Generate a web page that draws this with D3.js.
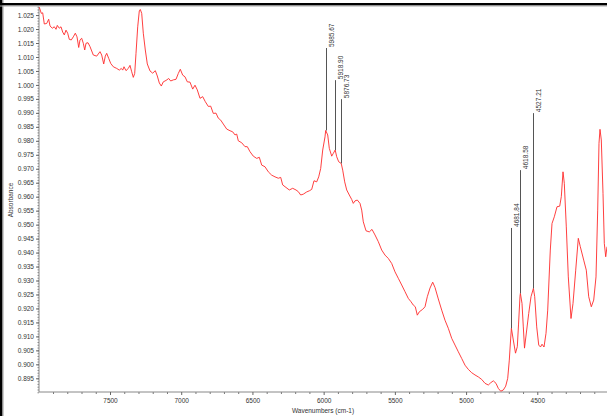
<!DOCTYPE html>
<html><head><meta charset="utf-8">
<script src="https://cdn.jsdelivr.net/npm/d3@7"></script>
<style>
body{margin:0;background:#fff;}
svg{display:block;}
text{font-family:"Liberation Sans",Arial,sans-serif;}
</style>
</head><body>
<svg id="c" width="607" height="416"></svg>
<script>
const wavenumbers = [7996.4,7982.3,7972.5,7961.3,7944.4,7930.4,7921.2,7905.1,7891.1,7879.1,7870.0,7856.0,7844.0,7832.1,7820.8,7808.9,7797.0,7785.7,7771.7,7757.7,7743.6,7731.7,7719.7,7710.6,7698.7,7687.4,7677.6,7668.5,7654.5,7640.4,7617.2,7593.4,7570.2,7558.3,7544.2,7533.0,7523.2,7509.1,7495.1,7476.8,7452.9,7434.7,7420.7,7410.8,7401.7,7387.7,7371.5,7359.6,7347.6,7336.4,7326.6,7317.4,7305.5,7294.3,7287.3,7277.4,7266.2,7252.1,7238.1,7219.1,7200.2,7181.9,7167.9,7153.9,7139.8,7125.8,7106.8,7087.9,7073.8,7055.6,7036.6,7020.5,7006.4,6989.6,6973.4,6957.3,6938.3,6919.4,6903.2,6887.1,6868.1,6849.2,6830.9,6809.8,6793.0,6774.7,6755.8,6739.6,6722.8,6704.5,6680.6,6657.5,6638.5,6622.4,6610.4,6599.2,6575.3,6552.2,6536.0,6517.0,6493.9,6470.0,6451.8,6434.9,6411.7,6388.6,6364.7,6341.5,6318.4,6301.5,6287.5,6264.3,6241.1,6217.3,6194.1,6177.9,6161.1,6142.8,6119.0,6100.7,6083.9,6067.7,6048.8,6034.7,6020.7,6006.6,5990.5,5985.7,5971.5,5960.3,5943.4,5932.2,5918.9,5908.4,5894.3,5876.7,5866.2,5852.2,5838.1,5819.9,5803.0,5791.8,5779.8,5763.7,5744.7,5732.8,5721.6,5702.6,5679.4,5660.5,5639.4,5616.3,5592.4,5569.2,5546.0,5522.2,5499.0,5475.9,5452.0,5428.8,5405.6,5386.7,5370.5,5356.5,5342.4,5328.4,5304.5,5288.4,5272.2,5253.3,5234.3,5218.2,5195.0,5171.1,5148.0,5124.8,5100.9,5077.7,5054.6,5030.7,5007.5,4984.4,4960.5,4937.3,4914.2,4890.3,4867.1,4843.9,4827.1,4808.8,4789.9,4773.7,4756.9,4738.6,4721.8,4707.7,4696.5,4686.7,4681.8,4668.4,4653.0,4640.3,4631.9,4621.4,4618.6,4607.3,4598.2,4589.8,4574.3,4560.3,4544.1,4527.2,4518.1,4504.1,4490.0,4477.4,4466.9,4452.9,4438.8,4426.9,4408.7,4396.7,4380.6,4361.6,4342.6,4331.4,4319.5,4310.4,4296.3,4282.3,4263.3,4249.3,4230.3,4212.1,4198.0,4174.1,4155.9,4139.0,4120.8,4103.9,4087.8,4075.9,4066.8,4059.7,4050.6,4038.6,4029.5,4019.7,4010.6];
const absorbance = [1.0278,1.0256,1.0258,1.0218,1.0220,1.0235,1.0211,1.0203,1.0208,1.0199,1.0213,1.0203,1.0208,1.0189,1.0179,1.0196,1.0185,1.0163,1.0161,1.0172,1.0185,1.0172,1.0134,1.0161,1.0167,1.0149,1.0125,1.0149,1.0151,1.0137,1.0107,1.0103,1.0119,1.0107,1.0075,1.0103,1.0113,1.0095,1.0077,1.0065,1.0059,1.0053,1.0059,1.0053,1.0065,1.0051,1.0059,1.0070,1.0047,1.0027,1.0041,1.0113,1.0208,1.0265,1.0270,1.0256,1.0185,1.0125,1.0075,1.0050,1.0042,1.0051,1.0032,1.0007,0.9996,1.0011,1.0016,1.0023,1.0014,1.0018,1.0020,1.0041,1.0056,1.0035,1.0029,1.0011,1.0010,0.9985,0.9999,0.9982,0.9952,0.9958,0.9940,0.9923,0.9924,0.9898,0.9899,0.9881,0.9874,0.9860,0.9842,0.9836,0.9832,0.9821,0.9824,0.9800,0.9793,0.9779,0.9779,0.9761,0.9745,0.9737,0.9741,0.9713,0.9707,0.9689,0.9677,0.9671,0.9666,0.9669,0.9642,0.9633,0.9624,0.9630,0.9624,0.9618,0.9606,0.9609,0.9617,0.9621,0.9626,0.9657,0.9653,0.9671,0.9701,0.9767,0.9814,0.9837,0.9821,0.9773,0.9745,0.9755,0.9767,0.9743,0.9725,0.9719,0.9695,0.9653,0.9624,0.9606,0.9590,0.9576,0.9585,0.9588,0.9576,0.9552,0.9510,0.9478,0.9474,0.9483,0.9463,0.9439,0.9409,0.9391,0.9379,0.9361,0.9331,0.9308,0.9284,0.9260,0.9236,0.9224,0.9212,0.9206,0.9176,0.9188,0.9197,0.9206,0.9242,0.9273,0.9294,0.9275,0.9234,0.9194,0.9158,0.9129,0.9093,0.9069,0.9045,0.9021,0.8997,0.8982,0.8970,0.8962,0.8955,0.8946,0.8932,0.8926,0.8934,0.8941,0.8932,0.8914,0.8904,0.8908,0.8922,0.8950,0.9015,0.9094,0.9129,0.9087,0.9040,0.9063,0.9141,0.9244,0.9254,0.9218,0.9134,0.9058,0.9123,0.9182,0.9242,0.9272,0.9242,0.9134,0.9069,0.9062,0.9072,0.9062,0.9111,0.9194,0.9409,0.9504,0.9528,0.9564,0.9566,0.9600,0.9689,0.9648,0.9492,0.9313,0.9164,0.9218,0.9337,0.9451,0.9421,0.9373,0.9337,0.9242,0.9206,0.9230,0.9313,0.9552,0.9791,0.9841,0.9803,0.9612,0.9433,0.9385,0.9421];

const peakPositions = [5985.67, 5918.90, 5876.73, 4681.84, 4618.58, 4527.21];
const peakLabels = ["5985.67", "5918.90", "5876.73", "4681.84", "4618.58", "4527.21"];
const peakMarkerTops = [1.0132, 1.0017, 0.9949, 0.9488, 0.9695, 0.9899];

const xTickValues = [7500, 7000, 6500, 6000, 5500, 5000, 4500];
const xTickLabels = ["7500", "7000", "6500", "6000", "5500", "5000", "4500"];
const yTickValues = [1.025,1.020,1.015,1.010,1.005,1.000,0.995,0.990,0.985,0.980,0.975,0.970,0.965,0.960,0.955,0.950,0.945,0.940,0.935,0.930,0.925,0.920,0.915,0.910,0.905,0.900,0.895];
const yTickLabels = ["1.025","1.020","1.015","1.010","1.005","1.000","0.995","0.990","0.985","0.980","0.975","0.970","0.965","0.960","0.955","0.950","0.945","0.940","0.935","0.930","0.925","0.920","0.915","0.910","0.905","0.900","0.895"];
const xTitle = "Wavenumbers (cm-1)";
const yTitle = "Absorbance";

const svg = d3.select("#c");
const L = 39, R = 607, T = 5, B = 392;
const x = d3.scaleLinear().domain([7998.5, 4010.6]).range([L, R]);
const y = d3.scaleLinear().domain([1.0286, 0.8901]).range([T, B]);

// frame
svg.append("rect").attr("x",0).attr("y",0).attr("width",607).attr("height",416).attr("fill","#fff");
svg.append("rect").attr("x",0).attr("y",0).attr("width",2.5).attr("height",416).attr("fill","#000");
svg.append("rect").attr("x",2.5).attr("y",0).attr("width",1).attr("height",416).attr("fill","#999");
svg.append("rect").attr("x",0).attr("y",3).attr("width",607).attr("height",2.5).attr("fill","#000");
svg.append("rect").attr("x",0).attr("y",5.5).attr("width",607).attr("height",1).attr("fill","#aaa");

const fs = 6.5;
// Y axis
const yMinor = d3.range(0, 139).map(i => +(0.890 + i*0.001).toFixed(3)).filter(v => v <= 1.0286);
const gyMinor = svg.append("g").attr("transform",`translate(${L},0)`)
  .call(d3.axisLeft(y).tickValues(yMinor).tickSize(1.5).tickFormat(""));
gyMinor.select(".domain").remove();
gyMinor.selectAll("line").attr("stroke","#888");
const gy = svg.append("g").attr("transform",`translate(${L},0)`)
  .call(d3.axisLeft(y).tickValues(yTickValues).tickSize(3).tickPadding(2)
    .tickFormat((d,i) => yTickLabels[i]));
gy.select(".domain").attr("stroke","#888").attr("d",`M0,${T+2}V${B}`);
gy.selectAll("line").attr("stroke","#666");
gy.selectAll("text").attr("font-size",fs).attr("fill","#333").attr("font-family","Liberation Sans, Arial, sans-serif");

// X axis
const xMinor = d3.range(4100, 8000, 100).filter(v => v % 500 !== 0);
const gxMinor = svg.append("g").attr("transform",`translate(0,${B})`)
  .call(d3.axisBottom(x).tickValues(xMinor).tickSize(2).tickFormat(""));
gxMinor.select(".domain").remove();
gxMinor.selectAll("line").attr("stroke","#777");
const gx = svg.append("g").attr("transform",`translate(0,${B})`)
  .call(d3.axisBottom(x).tickValues(xTickValues).tickSize(3).tickPadding(3)
    .tickFormat((d,i) => xTickLabels[i]));
gx.select(".domain").attr("stroke","#888").attr("d",`M${L},0H${R}`);
gx.selectAll("line").attr("stroke","#666");
gx.selectAll("text").attr("font-size",fs).attr("fill","#333").attr("font-family","Liberation Sans, Arial, sans-serif");

// titles
svg.append("text").attr("x",(L+R)/2 + 0).attr("y",413).attr("text-anchor","middle")
  .attr("font-size",fs).attr("fill","#333").text(xTitle);
svg.append("text").attr("transform","translate(12.5,200) rotate(-90)").attr("text-anchor","middle")
  .attr("font-size",fs).attr("fill","#333").text(yTitle);

// spectrum
const data = wavenumbers.map((w,i) => [w, absorbance[i]]);
const line = d3.line().x(d => x(d[0])).y(d => y(d[1]));
svg.append("path").datum(data).attr("d", line).attr("fill","none")
  .attr("stroke","#ff2a2a").attr("stroke-width",0.9).attr("stroke-linejoin","round");

// peak markers
function absAt(w) {
  for (let i = 0; i < wavenumbers.length - 1; i++) {
    const a = wavenumbers[i], b = wavenumbers[i+1];
    if (w <= a && w >= b) {
      const t = (a - w) / (a - b);
      return absorbance[i] + t * (absorbance[i+1] - absorbance[i]);
    }
  }
  return absorbance[absorbance.length-1];
}
peakPositions.forEach((p, i) => {
  const px = Math.round(x(p)) + 0.5;
  svg.append("line").attr("x1",px).attr("x2",px)
    .attr("y1",y(peakMarkerTops[i])).attr("y2",y(absAt(p)))
    .attr("stroke","#555").attr("stroke-width",1);
  svg.append("text").attr("transform",`translate(${px+7},${y(peakMarkerTops[i])-1}) rotate(-90)`)
    .attr("text-anchor","start").attr("font-size",fs).attr("fill","#333").text(peakLabels[i]);
});
</script>
</body></html>
